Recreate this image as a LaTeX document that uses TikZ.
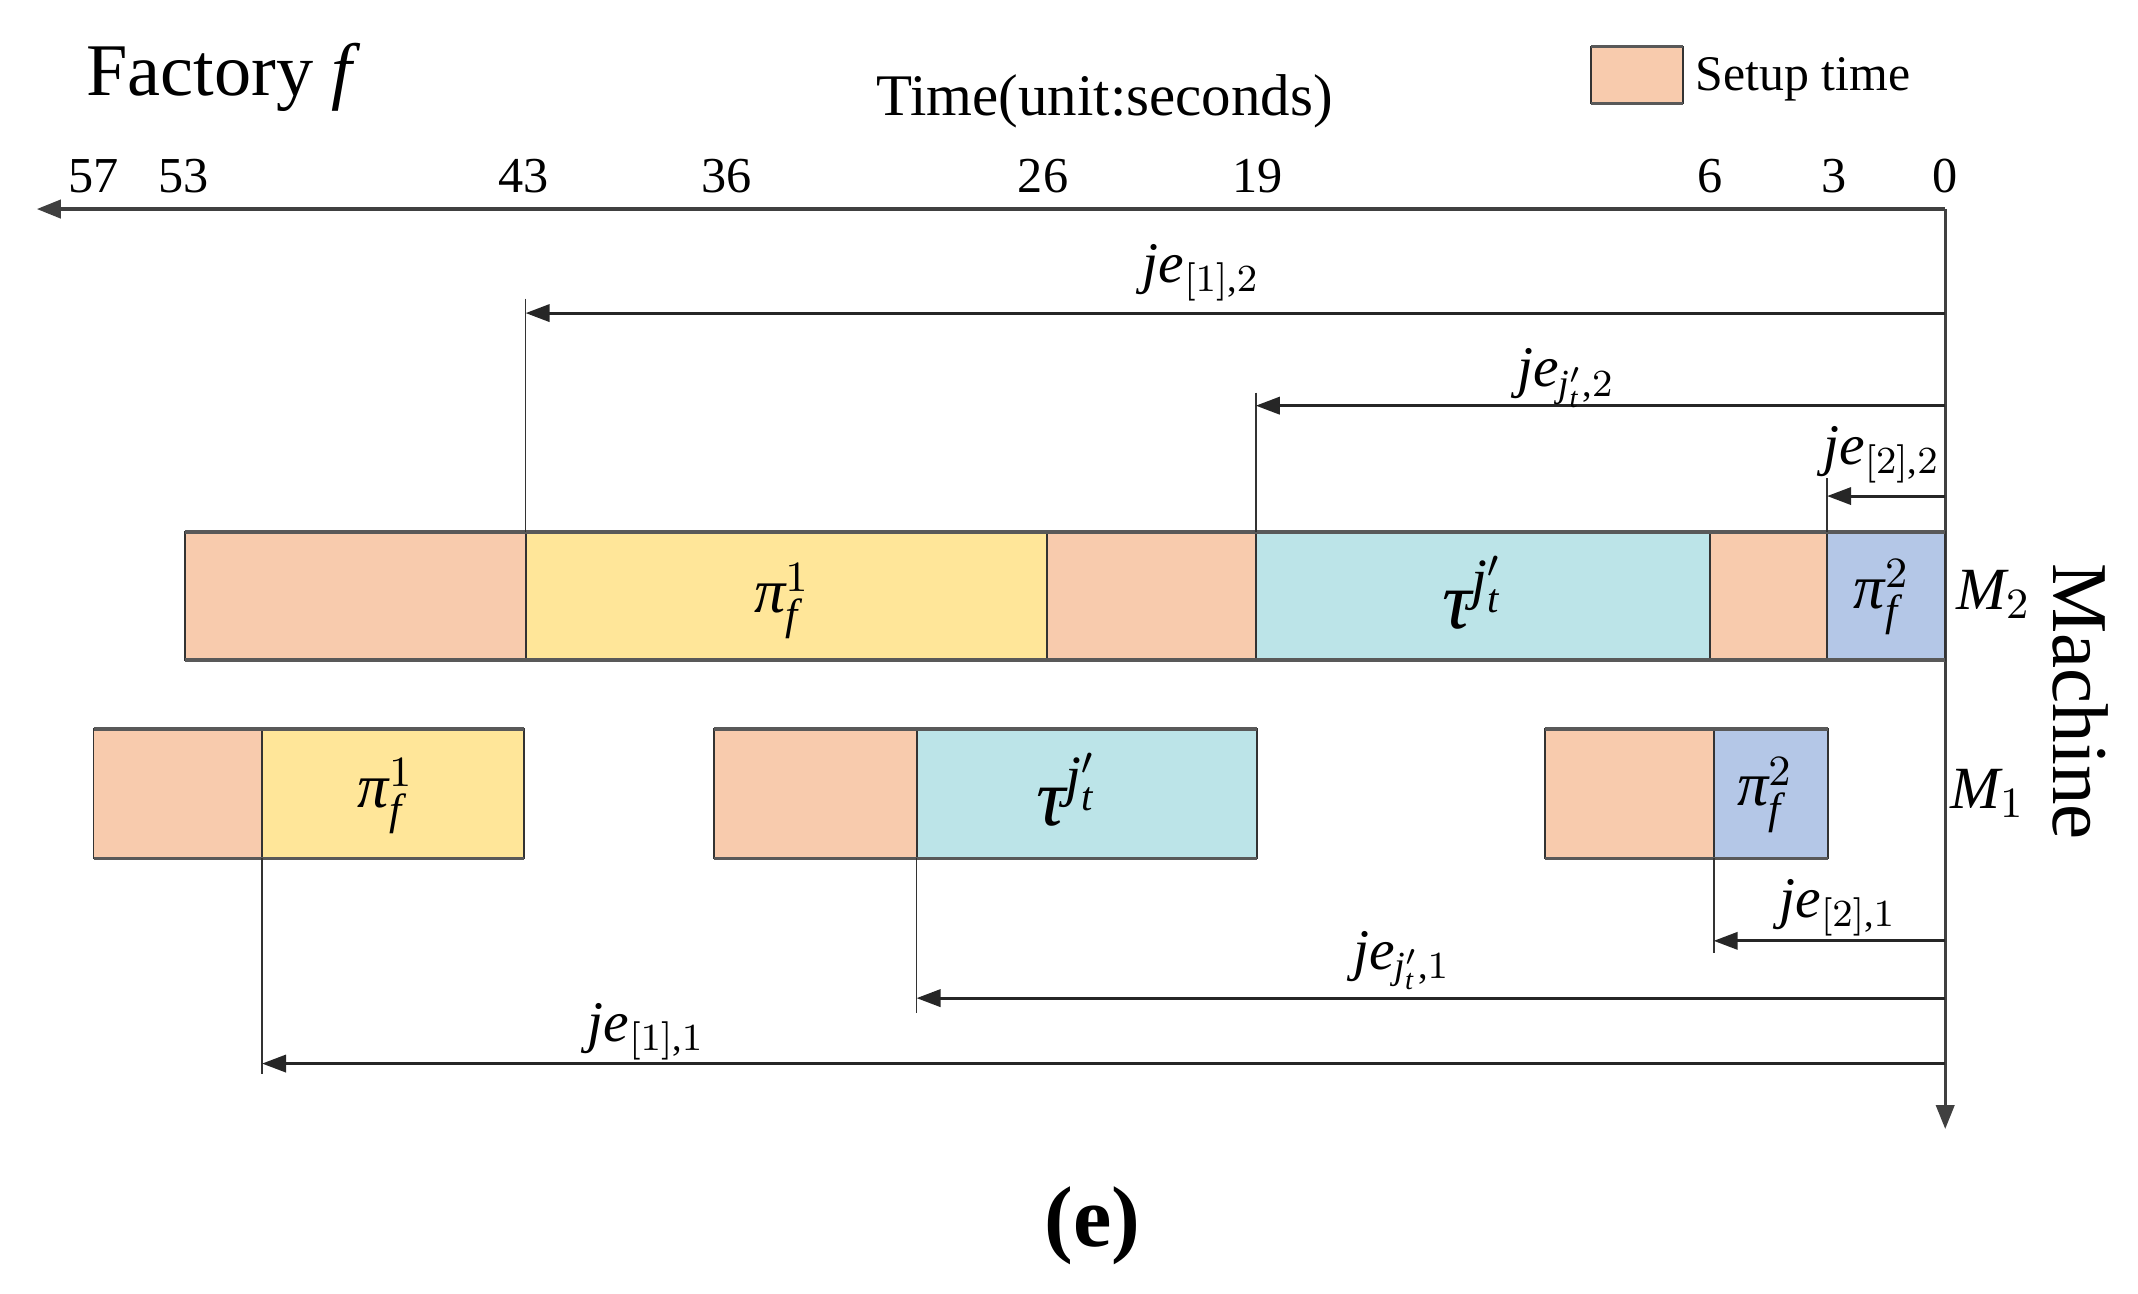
\documentclass[tikz,border=0pt]{standalone}
\usepackage{fontspec}
\setmainfont{Liberation Serif}
% math letters in the serif text face
\DeclareSymbolFont{letters}{TU}{\rmdefault}{m}{it}
\Umathchardef\pi="0 \symletters "03C0
\Umathchardef\tau="0 \symletters "03C4
\mathcode`,="602C
\usetikzlibrary{arrows.meta}
\definecolor{setup}{HTML}{F8CBAD}
\definecolor{jobone}{HTML}{FFE699}
\definecolor{jobtau}{HTML}{BCE4E8}
\definecolor{jobtwo}{HTML}{B4C7E7}
\definecolor{linegray}{HTML}{404040}
\tikzset{
  txt/.style={inner sep=0pt, anchor=base},
  tick/.style={txt, font=\fontsize{10.5}{12}\selectfont},
  jelabel/.style={txt, font=\fontsize{12}{14}\selectfont},
  joblabel/.style={inner sep=0pt, font=\fontsize{13}{15}\selectfont},
  taulabel/.style={inner sep=0pt, font=\fontsize{17}{20}\selectfont},
  axisline/.style={draw=linegray, line width=0.7pt, -{Triangle[length=5pt,width=3.8pt]}},
  jearrow/.style={draw=black!85, line width=0.6pt, -{Triangle[length=5pt,width=3.6pt]}},
  thinline/.style={draw=black!80, line width=0.35pt},
  box/.style={draw=black!80, line width=0.4pt},
  boxedge/.style={draw=black!65, line width=0.75pt},
}

\begin{document}
\begin{tikzpicture}
            \useasboundingbox (0,0) rectangle (15.68,-9.49);
            % Enter label
            \node[txt, anchor=base west, font=\fontsize{15.5}{18}\selectfont] (factory) at (0.626,-0.697) {Factory \textit{f}};
            \node[txt, font=\fontsize{12.3}{14}\selectfont] (timelbl) at (8.10,-0.85) {Time(unit:seconds)};
            % Legend
            \draw[box, fill=setup] (11.67,-0.342) rectangle (12.345,-0.758);
            \draw[boxedge] (11.67,-0.342) -- (12.345,-0.342);
            \draw[boxedge] (11.67,-0.758) -- (12.345,-0.758);
            \node[txt, anchor=base west, font=\fontsize{10.4}{12}\selectfont] (legend) at (12.43,-0.66) {Setup time};
            % Time ticks
            \node[tick] (t57) at (0.688,-1.415) {57};
            \node[tick] (t53) at (1.344,-1.415) {53};
            \node[tick] (t43) at (3.841,-1.415) {43};
            \node[tick] (t36) at (5.33,-1.415) {36};
            \node[tick] (t26) at (7.65,-1.415) {26};
            \node[tick] (t19) at (9.22,-1.415) {19};
            \node[tick] (t6) at (12.54,-1.415) {6};
            \node[tick] (t3) at (13.45,-1.415) {3};
            \node[tick] (t0) at (14.266,-1.415) {0};
            % Axes
            \coordinate (zero) at (14.266,-1.533);
            \coordinate (tend) at (0.27,-1.533);
            \coordinate (mend) at (14.266,-8.28);
            \draw[axisline] (zero) -- (tend);
            \draw[axisline] (zero) -- (mend);
            % Machine M2
            \draw[box, fill=setup] (1.36,-3.90) rectangle (3.855,-4.84);
            \draw[box, fill=jobone] (3.855,-3.90) rectangle (7.68,-4.84);
            \draw[box, fill=setup] (7.68,-3.90) rectangle (9.21,-4.84);
            \draw[box, fill=jobtau] (9.21,-3.90) rectangle (12.54,-4.84);
            \draw[box, fill=setup] (12.54,-3.90) rectangle (13.40,-4.84);
            \draw[box, fill=jobtwo] (13.40,-3.90) rectangle (14.266,-4.84);
            \draw[boxedge] (1.36,-3.90) -- (14.266,-3.90);
            \draw[boxedge] (1.36,-4.84) -- (14.266,-4.84);
            % Machine M1
            \draw[box, fill=setup] (0.686,-5.345) rectangle (1.922,-6.295);
            \draw[box, fill=jobone] (1.922,-5.345) rectangle (3.844,-6.295);
            \draw[box, fill=setup] (5.235,-5.345) rectangle (6.722,-6.295);
            \draw[box, fill=jobtau] (6.722,-5.345) rectangle (9.22,-6.295);
            \draw[box, fill=setup] (11.33,-5.345) rectangle (12.568,-6.295);
            \draw[box, fill=jobtwo] (12.568,-5.345) rectangle (13.403,-6.295);
            \draw[boxedge] (0.686,-5.345) -- (3.844,-5.345);
            \draw[boxedge] (0.686,-6.295) -- (3.844,-6.295);
            \draw[boxedge] (5.235,-5.345) -- (9.22,-5.345);
            \draw[boxedge] (5.235,-6.295) -- (9.22,-6.295);
            \draw[boxedge] (11.33,-5.345) -- (13.403,-5.345);
            \draw[boxedge] (11.33,-6.295) -- (13.403,-6.295);
            % Jobs
            \node[joblabel] (p1m2) at (5.735,-4.41) {$\pi^{1}_{f}$};
            \node[taulabel] (taum2) at (10.80,-4.345) {$\tau^{j_t'}$};
            \node[joblabel] (p2m2) at (13.80,-4.38) {$\pi^{2}_{f}$};
            \node[joblabel] (p1m1) at (2.83,-5.84) {$\pi^{1}_{f}$};
            \node[taulabel] (taum1) at (7.825,-5.795) {$\tau^{j_t'}$};
            \node[joblabel] (p2m1) at (12.945,-5.83) {$\pi^{2}_{f}$};
            % Machines
            \node[txt, font=\fontsize{12.5}{14}\selectfont] (m2) at (14.62,-4.47) {$M_2$};
            \node[txt, font=\fontsize{12.5}{14}\selectfont] (m1) at (14.575,-5.93) {$M_1$};
            \node[rotate=-90, inner sep=0pt, font=\fontsize{16.5}{19}\selectfont] (machine) at (15.26,-5.145) {Machine};
            % Completion times
            \coordinate (e12) at (3.855,-2.296);
            \coordinate (ej2) at (9.21,-2.975);
            \coordinate (e22) at (13.40,-3.638);
            \coordinate (e21) at (12.568,-6.90);
            \coordinate (ej1) at (6.722,-7.32);
            \coordinate (e11) at (1.922,-7.80);
            \draw[thinline] (3.855,-2.19) -- (3.855,-3.90);
            \draw[thinline] (9.21,-2.88) -- (9.21,-3.90);
            \draw[thinline] (13.40,-3.506) -- (13.40,-3.90);
            \draw[thinline] (12.568,-6.295) -- (12.568,-6.99);
            \draw[thinline] (6.722,-6.295) -- (6.722,-7.43);
            \draw[thinline] (1.922,-6.295) -- (1.922,-7.88);
            \draw[jearrow] (zero |- e12) -- (e12);
            \draw[jearrow] (zero |- ej2) -- (ej2);
            \draw[jearrow] (zero |- e22) -- (e22);
            \draw[jearrow] (zero |- e21) -- (e21);
            \draw[jearrow] (zero |- ej1) -- (ej1);
            \draw[jearrow] (zero |- e11) -- (e11);
            \node[jelabel] (l12) at (8.81,-2.075) {$je_{[1],2}$};
            \node[jelabel] (lj2) at (11.486,-2.838) {$je_{j_t',2}$};
            \node[jelabel] (l22) at (13.80,-3.41) {$je_{[2],2}$};
            \node[jelabel] (l21) at (13.48,-6.73) {$je_{[2],1}$};
            \node[jelabel] (lj1) at (10.28,-7.11) {$je_{j_t',1}$};
            \node[jelabel] (l11) at (4.74,-7.64) {$je_{[1],1}$};
            % Caption
            \node[txt, font=\fontsize{18}{21}\selectfont\bfseries] (caption) at (8.01,-9.14) {(e)};
\end{tikzpicture}
\end{document}
